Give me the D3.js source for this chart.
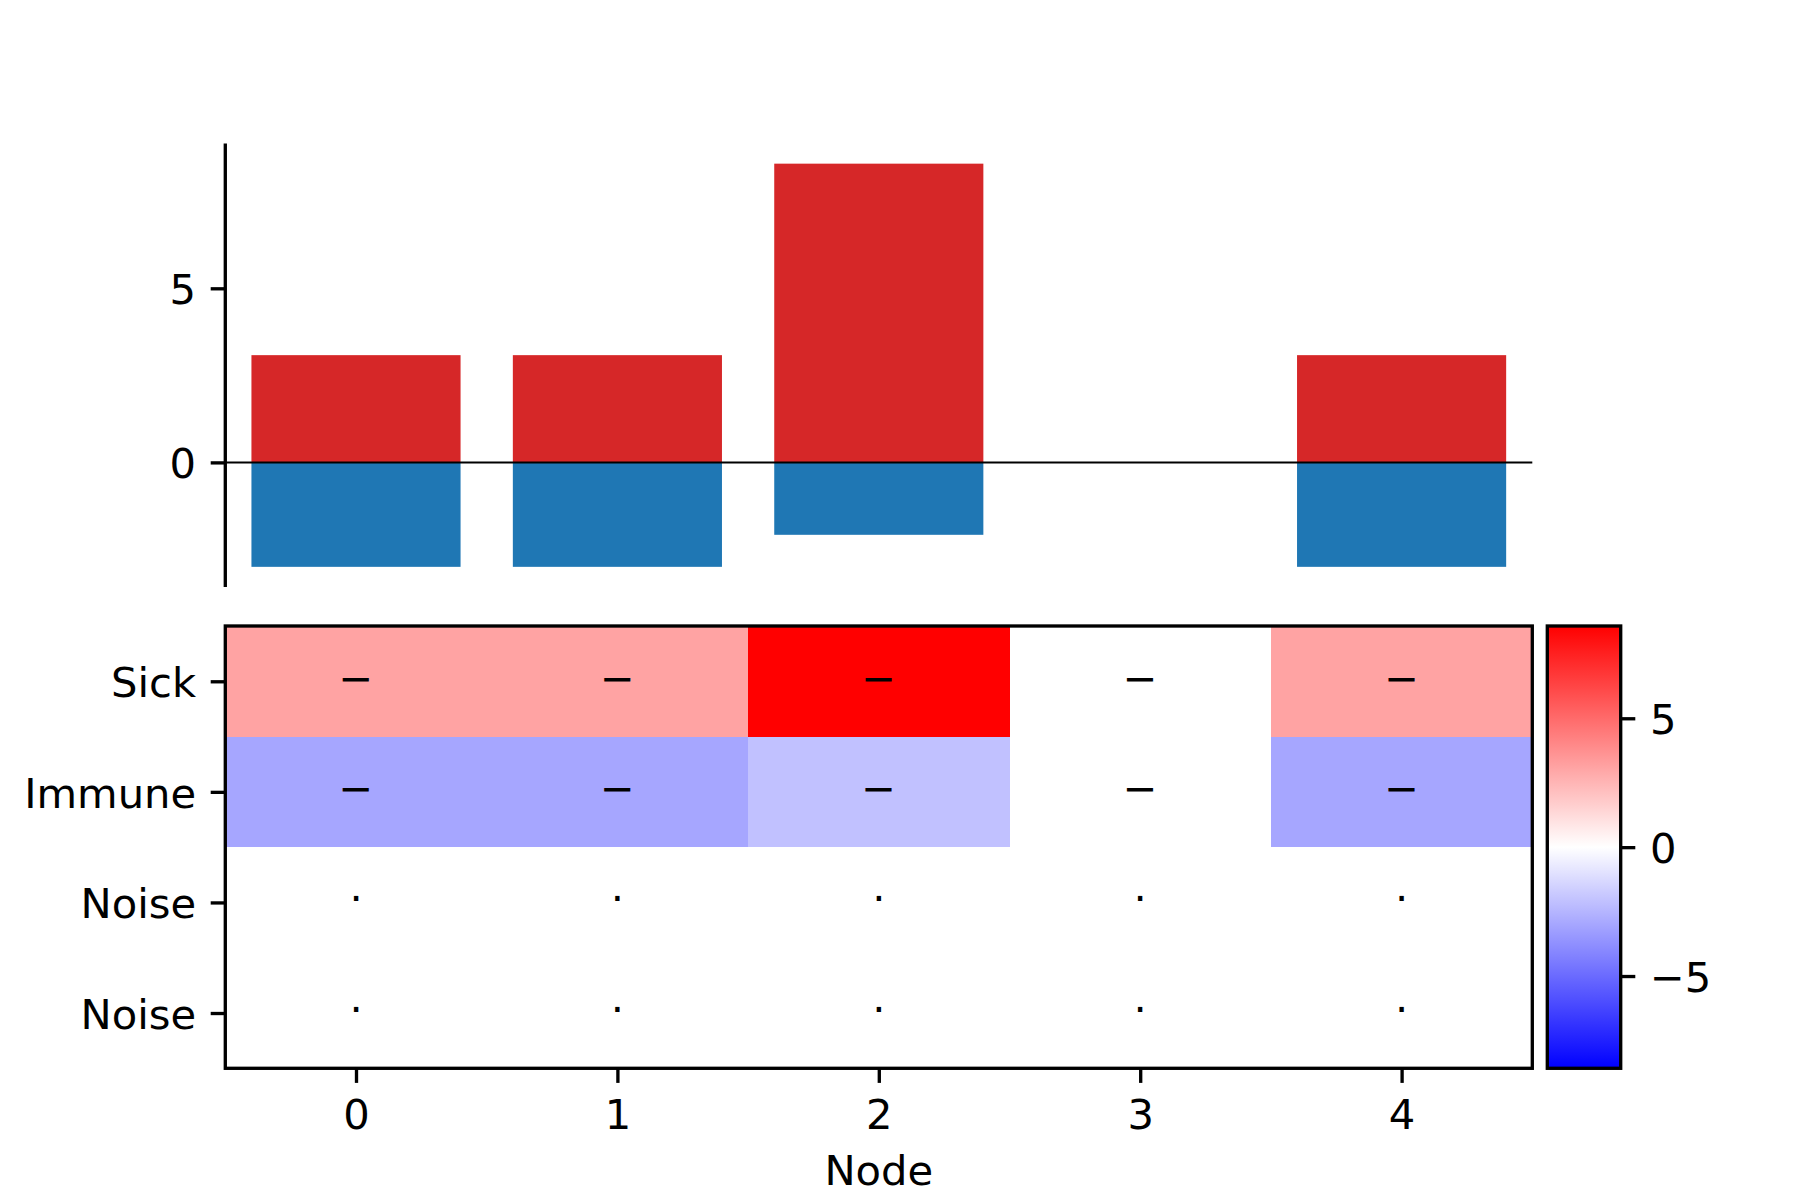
<!DOCTYPE html>
<html>
<head>
<meta charset="utf-8">
<script src="https://cdn.jsdelivr.net/npm/d3@7"></script>
<style>
html,body{margin:0;padding:0;background:#fff;}
svg{display:block;}
text{font-family:"DejaVu Sans",sans-serif;}
</style>
</head>
<body>
<svg id="chart" width="1800" height="1200"></svg>
<script>
// ---- data ----
const nodes = [0, 1, 2, 3, 4];
const sickValues = [3.08, 3.08, 8.58, 0, 3.08];
const immuneValues = [-3.0, -3.0, -2.08, 0, -3.0];
const noiseValuesA = [0, 0, 0, 0, 0];
const noiseValuesB = [0, 0, 0, 0, 0];
const rowLabels = ["Sick", "Immune", "Noise", "Noise"];
const rowMarks = ["\u2212", "\u2212", "\u00B7", "\u00B7"];
const barTicks = [0, 5];
const colorbarTicks = [-5, 0, 5];
const xLabel = "Node";

// ---- layout ----
const FS = 41.67;            // 10pt at 300 dpi
const LW = 3.33;             // 0.8pt spine
const TL = 14.6;             // tick length
const PAD = 14.6;            // tick pad
const left = 225.3, right = 1532.3;
const topY0 = 143.5, topY1 = 587;
const heatY0 = 626, heatY1 = 1068.3;
const cbX0 = 1547.3, cbX1 = 1620.7;

const svg = d3.select("#chart");
const fmt = v => (v < 0 ? "\u2212" + Math.abs(v) : String(v));

const x = d3.scaleLinear().domain([-0.5, nodes.length - 0.5]).range([left, right]);

// ---- top bar panel ----
const dmax = d3.max(sickValues), dmin = d3.min(immuneValues);
const span = dmax - dmin;
const yBar = d3.scaleLinear().domain([dmin - 0.05 * span, dmax + 0.05 * span]).range([topY1, topY0]);
const bw = 0.8;

const gTop = svg.append("g");
gTop.selectAll("rect.sick").data(nodes).join("rect")
  .attr("x", d => x(d - bw / 2)).attr("width", x(bw) - x(0))
  .attr("y", (d, i) => yBar(Math.max(0, sickValues[i])))
  .attr("height", (d, i) => Math.abs(yBar(sickValues[i]) - yBar(0)))
  .attr("fill", "#d62728");
gTop.selectAll("rect.imm").data(nodes).join("rect")
  .attr("x", d => x(d - bw / 2)).attr("width", x(bw) - x(0))
  .attr("y", (d, i) => yBar(Math.max(0, immuneValues[i])))
  .attr("height", (d, i) => Math.abs(yBar(immuneValues[i]) - yBar(0)))
  .attr("fill", "#1f77b4");
gTop.append("line").attr("x1", left).attr("x2", right)
  .attr("y1", yBar(0)).attr("y2", yBar(0)).attr("stroke", "#000").attr("stroke-width", 2);

const yAxisTop = d3.axisLeft(yBar).tickValues(barTicks).tickSize(TL).tickPadding(PAD).tickFormat(fmt);
const gya = svg.append("g").attr("transform", `translate(${left},0)`).call(yAxisTop);
gya.select(".domain").attr("d", `M0,${topY0}V${topY1}`).attr("stroke-width", LW);

// ---- heatmap ----
const matrix = [sickValues, immuneValues, noiseValuesA, noiseValuesB];
const vmax = d3.max(matrix.flat().map(Math.abs));
const color = d3.scaleLinear().domain([-vmax, 0, vmax]).range(["#0000ff", "#ffffff", "#ff0000"]).clamp(true);
const yHeat = d3.scaleBand().domain(d3.range(rowLabels.length)).range([heatY0, heatY1]);

const cells = [];
matrix.forEach((row, r) => row.forEach((v, c) => cells.push({r, c, v})));
const gHeat = svg.append("g");
gHeat.selectAll("rect").data(cells).join("rect")
  .attr("x", d => x(d.c - 0.5)).attr("width", x(1) - x(0))
  .attr("y", d => yHeat(d.r)).attr("height", yHeat.bandwidth())
  .attr("fill", d => color(d.v)).attr("shape-rendering", "crispEdges");
gHeat.selectAll("text").data(cells).join("text")
  .attr("x", d => x(d.c)).attr("y", d => yHeat(d.r) + yHeat.bandwidth() / 2 + (d.r < 2 ? 11.5 : 10.5))
  .attr("text-anchor", "middle").attr("font-size", FS).attr("fill", "#000")
  .text(d => rowMarks[d.r]);

svg.append("rect").attr("x", left).attr("y", heatY0).attr("width", right - left).attr("height", heatY1 - heatY0)
  .attr("fill", "none").attr("stroke", "#000").attr("stroke-width", LW);

// heatmap y axis
const yHeatPos = d3.scaleLinear().domain([0, rowLabels.length]).range([heatY0, heatY1]);
const gyh = svg.append("g").attr("transform", `translate(${left},0)`)
  .call(d3.axisLeft(yHeatPos).tickValues(d3.range(rowLabels.length).map(i => i + 0.5))
    .tickSize(TL).tickPadding(PAD).tickFormat(d => rowLabels[Math.floor(d)]));
gyh.select(".domain").remove();

// heatmap x axis
const gxh = svg.append("g").attr("transform", `translate(0,${heatY1})`)
  .call(d3.axisBottom(x).tickValues(nodes).tickSize(TL).tickPadding(PAD).tickFormat(d => String(d)));
gxh.select(".domain").remove();

svg.append("text").attr("x", x((nodes.length - 1) / 2)).attr("y", 1185)
  .attr("text-anchor", "middle").attr("font-size", FS).attr("fill", "#000").text(xLabel);

// ---- colorbar ----
const cbY = d3.scaleLinear().domain([-vmax, vmax]).range([heatY1, heatY0]);
const defs = svg.append("defs");
const grad = defs.append("linearGradient").attr("id", "bwr").attr("x1", 0).attr("y1", 1).attr("x2", 0).attr("y2", 0);
d3.range(0, 1.0001, 0.05).forEach(t => {
  grad.append("stop").attr("offset", t).attr("stop-color", color(-vmax + 2 * vmax * t));
});
svg.append("rect").attr("x", cbX0).attr("y", heatY0).attr("width", cbX1 - cbX0).attr("height", heatY1 - heatY0)
  .attr("fill", "url(#bwr)").attr("stroke", "#000").attr("stroke-width", LW);
const gcb = svg.append("g").attr("transform", `translate(${cbX1},0)`)
  .call(d3.axisRight(cbY).tickValues(colorbarTicks).tickSize(TL).tickPadding(PAD).tickFormat(fmt));
gcb.select(".domain").remove();

// common axis styling
svg.selectAll(".tick line").attr("stroke", "#000").attr("stroke-width", LW);
svg.selectAll(".tick text").attr("font-size", FS).attr("fill", "#000").attr("font-family", "DejaVu Sans");
[gya, gyh, gcb].forEach(g => g.selectAll(".tick text").attr("dy", "0.37em"));
gxh.selectAll(".tick text").attr("dy", "0.76em");
</script>
</body>
</html>
